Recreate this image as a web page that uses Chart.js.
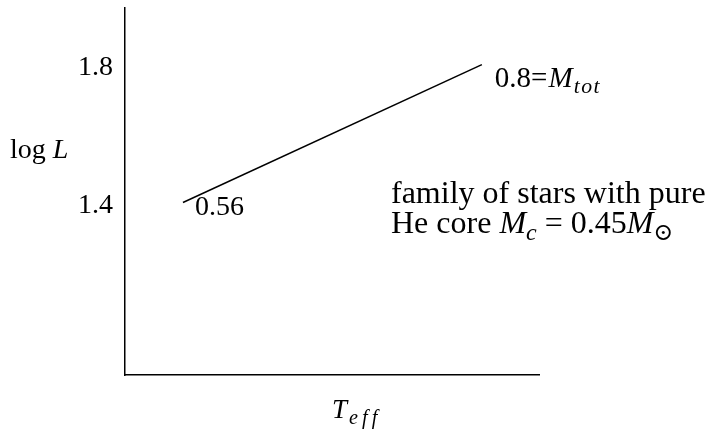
<!DOCTYPE html>
<html>
<head>
<meta charset="utf-8">
<script src="https://cdn.jsdelivr.net/npm/chart.js@4.4.0/dist/chart.umd.min.js"></script>
<style>
  html, body { margin: 0; padding: 0; background: #fff; }
  #wrap { width: 713px; height: 430px; }
</style>
</head>
<body>
<div id="wrap"><canvas id="hrChart"></canvas></div>
<script>
// track of the He-core family, low mass end first
const teff = [0.14, 0.862];
const logL = [1.41, 1.81];
const massLabels = ['0.56', '0.8'];
const yTicks = [1.4, 1.8];
const yRange = [0.91, 1.974];
const xRange = [0, 1];

const FONT = "'Liberation Serif', 'DejaVu Serif', serif";

// draws a row of text pieces, some italic, some as subscripts
function drawRuns(ctx, x, y, runs, size) {
    let cx = x;
    runs.forEach(r => {
        const s = r.sub ? size * 0.75 : size;
        ctx.font = (r.italic ? 'italic ' : '') + s + 'px ' + FONT;
        ctx.letterSpacing = (r.spacing || 0) + 'px';
        ctx.fillText(r.t, cx, y + (r.sub ? size * 0.22 : 0));
        cx += ctx.measureText(r.t).width + (r.gap || 0);
    });
    ctx.letterSpacing = '0px';
}

const textPlugin = {
    id: 'hrText',
    afterDraw(chart) {
        const ctx = chart.ctx;
        const area = chart.chartArea;
        const x = chart.scales.x;
        const y = chart.scales.y;
        ctx.save();
        ctx.fillStyle = '#000';
        ctx.textAlign = 'left';
        ctx.textBaseline = 'alphabetic';

        // mass at each end of the track
        const x0 = x.getPixelForValue(teff[0]), y0 = y.getPixelForValue(logL[0]);
        const x1 = x.getPixelForValue(teff[1]), y1 = y.getPixelForValue(logL[1]);
        drawRuns(ctx, x0 + 12, y0 + 12, [{t: massLabels[0]}], 28);
        drawRuns(ctx, x1 + 13, y1 + 22, [
            {t: massLabels[1]}, {t: '=', gap: 1}, {t: 'M', italic: true, gap: 1},
            {t: 'tot', italic: true, sub: true, spacing: 1.5}
        ], 29);

        // axis titles
        drawRuns(ctx, 10, 158, [{t: 'log '}, {t: 'L', italic: true}], 28);
        drawRuns(ctx, 332, area.bottom + 43, [
            {t: 'T', italic: true, gap: 2}, {t: 'eff', italic: true, sub: true, spacing: 4}
        ], 27);

        // note on the right
        drawRuns(ctx, 391, 203, [{t: 'family of stars with pure'}], 32);
        drawRuns(ctx, 391, 233, [
            {t: 'He core '}, {t: 'M', italic: true}, {t: 'c', italic: true, sub: true},
            {t: ' = 0.45'}, {t: 'M', italic: true}, {t: '\u2299', sub: true}
        ], 32);
        ctx.restore();
    }
};

new Chart(document.getElementById('hrChart'), {
    type: 'line',
    data: {
        datasets: [{
            data: teff.map((t, i) => ({x: t, y: logL[i]})),
            borderColor: '#000',
            borderWidth: 1.5,
            pointRadius: 0,
            fill: false,
            tension: 0
        }]
    },
    options: {
        responsive: true,
        maintainAspectRatio: false,
        animation: false,
        layout: { padding: { top: 8, right: 174, left: 0, bottom: 0 } },
        plugins: { legend: { display: false }, tooltip: { enabled: false } },
        scales: {
            x: {
                type: 'linear',
                min: xRange[0],
                max: xRange[1],
                grid: { display: false, drawTicks: false },
                border: { color: '#000', width: 1.5 },
                ticks: { display: false },
                afterFit(s) { s.height = 55; s.paddingLeft = 0; s.paddingRight = 0; }
            },
            y: {
                type: 'linear',
                min: yRange[0],
                max: yRange[1],
                grid: { display: false, drawTicks: false },
                border: { color: '#000', width: 1.5 },
                ticks: {
                    color: '#000',
                    font: { family: FONT, size: 28 },
                    padding: 12,
                    callback: v => v.toFixed(1)
                },
                afterBuildTicks(s) { s.ticks = yTicks.map(v => ({value: v})); },
                afterFit(s) { s.width = 125; s.paddingTop = 0; s.paddingBottom = 0; }
            }
        }
    },
    plugins: [textPlugin]
});
</script>
</body>
</html>
